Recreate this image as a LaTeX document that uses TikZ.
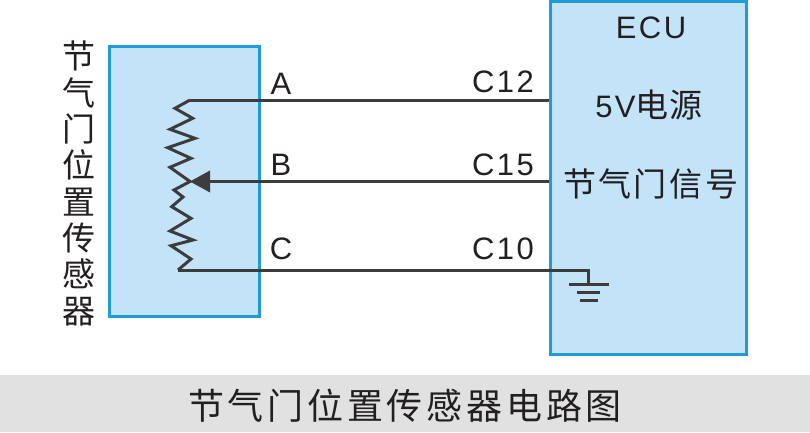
\documentclass[tikz,border=0pt]{standalone}
\usepackage{fontspec}
\setmainfont{Liberation Sans}[LetterSpace=8]
\newfontfamily\latn{Liberation Sans}[LetterSpace=8]
\newfontfamily\cjk{Noto Sans CJK SC}
\definecolor{boxfill}{HTML}{C3E3F9}
\definecolor{boxline}{HTML}{1E9BDC}
\definecolor{wire}{HTML}{3C3C3C}
\definecolor{band}{HTML}{E1E1E1}
\definecolor{ink}{HTML}{231F20}
\tikzset{
  panel/.style={draw=boxline,fill=boxfill,line width=3pt,inner sep=0pt},
  wireline/.style={draw=wire,line width=3pt,line join=miter},
  lat/.style={text=ink,inner sep=0pt,font=\latn\fontsize{31}{31}\selectfont},
  han/.style={text=ink,inner sep=0pt,font=\cjk\fontsize{33}{33}\selectfont},
  gnd/.style={draw=wire,line width=3pt},
}
\begin{document}
\begin{tikzpicture}[x=1pt,y=-1pt]
\useasboundingbox (0,0) rectangle (810,432);
\fill[band] (0,375) rectangle (810,432);
\node[panel,minimum width=150pt,minimum height=270pt] (sensor) at (184.5,181.5) {};
\node[panel,minimum width=196pt,minimum height=353pt] (ecu) at (648.75,177.5) {};
\coordinate (rtop) at (190,100);
\coordinate (rmid) at (190,181.5);
\coordinate (rbot) at (178,270);
\coordinate (gtop) at (588,270);
\coordinate (gbar) at (588,284);
\coordinate (b1l) at (569,284); \coordinate (b1r) at (609,284);
\coordinate (b2l) at (577,292); \coordinate (b2r) at (600,292);
\coordinate (b3l) at (580,300); \coordinate (b3r) at (598,300);
\coordinate (ah) at (210,181.5);
\coordinate (a1) at (210,170.5);
\coordinate (a2) at (210,192.5);
% resistor
\draw[wireline] (rtop) -- (175,108.3) -- (192.7,118.3) -- (170,129.3) -- (195,138.3) -- (167.7,147.7) -- (191,158.3) -- (170,167.3) -- (rmid) -- (174,190) -- (183,197) -- (171.7,206.7) -- (191,218.3) -- (170,231) -- (193,240) -- (171,245.7) -- (191,259) -- (rbot);
% wires
\draw[wireline] (rtop) -- (rtop -| ecu.west);
\draw[wireline] (ah) -- (ah -| ecu.west);
\draw[wireline] (rbot) -- (gtop) -- (gbar);
\fill[wire] (rmid) -- (a1) -- (a2) -- cycle;
\draw[gnd] (b1l) -- (b1r);
\draw[gnd] (b2l) -- (b2r);
\draw[gnd] (b3l) -- (b3r);
% labels
\node[lat] (la) at (281,84) {A};
\node[lat] (lb) at (281,165) {B};
\node[lat] (lc) at (281,249) {C};
\node[lat] (c12) at (503,82) {C12};
\node[lat] (c15) at (503,165) {C15};
\node[lat] (c10) at (503,249) {C10};
\node[lat] (ecut) at (651,28) {ECU};
\node[han] (pw) at (649,105) {{\latn\fontsize{31}{31}\selectfont 5V}电\hspace{1pt}源};
\node[han] (sig) at (650.5,184) {节\hspace{2.5pt}气\hspace{2.5pt}门\hspace{2.5pt}信\hspace{2.5pt}号};
\node[han,align=center,font=\cjk\fontsize{33}{36.3}\selectfont] (vert) at (79,183.5) {节\\气\\门\\位\\置\\传\\感\\器};
\node[han,font=\cjk\fontsize{36}{36}\selectfont] (title) at (405,406) {节\hspace{3.8pt}气\hspace{3.8pt}门\hspace{3.8pt}位\hspace{3.8pt}置\hspace{3.8pt}传\hspace{3.8pt}感\hspace{3.8pt}器\hspace{3.8pt}电\hspace{3.8pt}路\hspace{3.8pt}图};
\end{tikzpicture}
\end{document}
